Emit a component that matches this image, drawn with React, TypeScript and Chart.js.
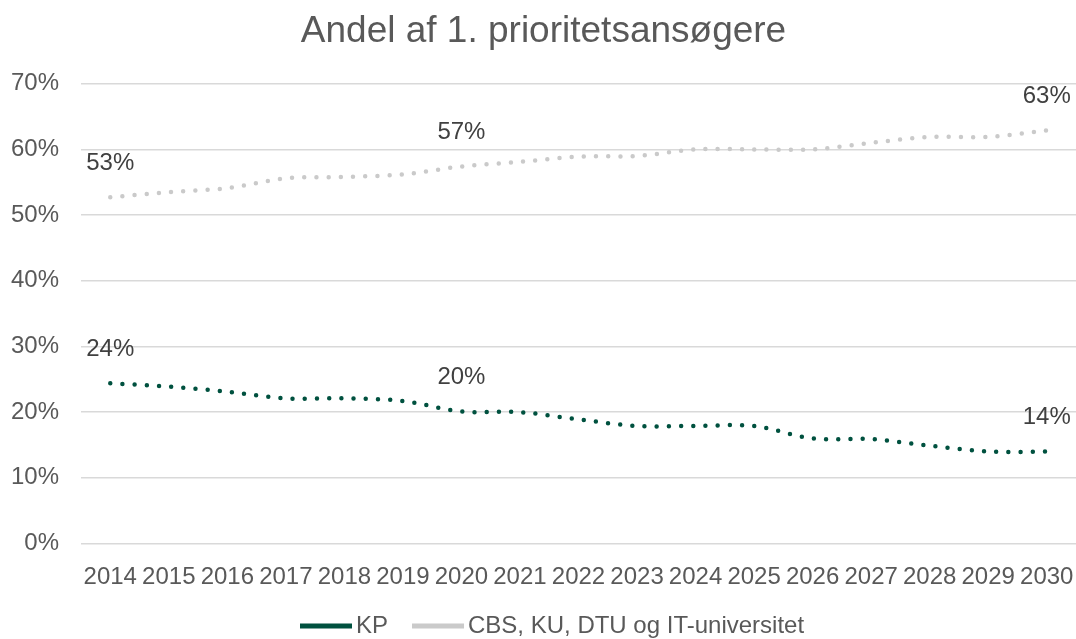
import React, { useEffect, useRef } from "react";
import { Chart, registerables } from "chart.js";

Chart.register(...registerables);

const years = ["2014", "2015", "2016", "2017", "2018", "2019", "2020", "2021", "2022", "2023", "2024", "2025", "2026", "2027", "2028", "2029", "2030"];
const kpValues = [24.4, 23.9, 23.1, 22.1, 22.1, 21.7, 20.1, 20.0, 18.9, 17.9, 17.9, 17.9, 16.0, 15.9, 14.9, 14.0, 14.0];
const otherValues = [52.7, 53.5, 54.1, 55.6, 55.8, 56.2, 57.4, 58.1, 58.9, 59.0, 60.0, 60.0, 60.0, 61.0, 61.9, 61.9, 62.9];
const labelIndices = [0, 6, 16];
const seriesNames = ["KP", "CBS, KU, DTU og IT-universitet"];
const titleText = "Andel af 1. prioritetsansøgere";

const KP_COLOR = "#00513f";
const OTHER_COLOR = "#cacaca";
const FONT = "'Liberation Sans', Arial, sans-serif";
const TEXT_COLOR = "#595959";

const dataLabelPlugin = {
  id: "dataLabels",
  afterDatasetsDraw(chart: any) {
    const ctx = chart.ctx;
    ctx.save();
    ctx.font = `24px ${FONT}`;
    ctx.fillStyle = "#404040";
    ctx.textAlign = "center";
    ctx.textBaseline = "middle";
    chart.data.datasets.forEach((ds: any, di: number) => {
      const meta = chart.getDatasetMeta(di);
      labelIndices.forEach((i) => {
        const el = meta.data[i];
        if (!el) return;
        const v = ds.data[i];
        ctx.fillText(Math.round(v) + "%", el.x, el.y - 34);
      });
    });
    ctx.restore();
  },
};

// Custom legend: swatch + label for each dataset, laid out in one row.
const legendPlugin = {
  id: "customLegend",
  afterDraw(chart: any) {
    const ctx = chart.ctx;
    ctx.save();
    ctx.font = `24px ${FONT}`;
    ctx.textBaseline = "middle";
    ctx.textAlign = "left";
    const y = 626;
    let x = 300;
    const swatchW = 52;
    const swatchH = 5;
    const textGap = 4;
    const itemGap = 24;
    chart.data.datasets.forEach((ds: any) => {
      ctx.fillStyle = ds.borderColor;
      ctx.fillRect(x, y - swatchH / 2, swatchW, swatchH);
      x += swatchW + textGap;
      ctx.fillStyle = TEXT_COLOR;
      ctx.fillText(ds.label, x, y);
      x += ctx.measureText(ds.label).width + itemGap;
    });
    ctx.restore();
  },
};

export default function App() {
  const canvasRef = useRef<HTMLCanvasElement | null>(null);

  useEffect(() => {
    if (!canvasRef.current) return;
    const chart = new Chart(canvasRef.current, {
      type: "line",
      data: {
        labels: years,
        datasets: [
          {
            label: seriesNames[0],
            data: kpValues,
            borderColor: KP_COLOR,
            backgroundColor: KP_COLOR,
            borderWidth: 4.5,
            borderDash: [0, 12.2],
            borderCapStyle: "round",
            pointRadius: 0,
            tension: 0.33,
            fill: false,
          },
          {
            label: seriesNames[1],
            data: otherValues,
            borderColor: OTHER_COLOR,
            backgroundColor: OTHER_COLOR,
            borderWidth: 4.5,
            borderDash: [0, 12.2],
            borderCapStyle: "round",
            pointRadius: 0,
            tension: 0.33,
            fill: false,
          },
        ],
      },
      options: {
        animation: false,
        responsive: false,
        devicePixelRatio: 1,
        layout: { padding: { left: 11, right: 0, top: 0, bottom: 28.5 } },
        plugins: {
          title: {
            display: true,
            text: titleText,
            color: TEXT_COLOR,
            font: { family: FONT, size: 37, weight: "normal", lineHeight: 1.2 },
            padding: { top: 10, bottom: 29.3 },
          },
          legend: { display: false },
          tooltip: { enabled: false },
        },
        scales: {
          x: {
            type: "category",
            offset: true,
            grid: { display: false, drawTicks: false },
            border: { display: false },
            ticks: {
              color: TEXT_COLOR,
              font: { family: FONT, size: 24, lineHeight: 2.79 },
              padding: 0,
              maxRotation: 0,
              autoSkip: false,
            },
          },
          y: {
            min: 0,
            max: 70,
            grid: { color: "#d9d9d9", lineWidth: 1.6, drawTicks: false },
            border: { display: false },
            afterFit: (scale: any) => {
              scale.width = 70;
            },
            ticks: {
              stepSize: 10,
              color: TEXT_COLOR,
              font: { family: FONT, size: 24 },
              padding: 22,
              callback: (v: any) => v + "%",
            },
          },
        },
      },
      plugins: [dataLabelPlugin, legendPlugin],
    });
    return () => chart.destroy();
  }, []);

  return (
    <div style={{ position: "fixed", left: 0, top: 0, width: 1076, height: 639, background: "#fff" }}>
      <canvas ref={canvasRef} width={1076} height={639} />
    </div>
  );
}
